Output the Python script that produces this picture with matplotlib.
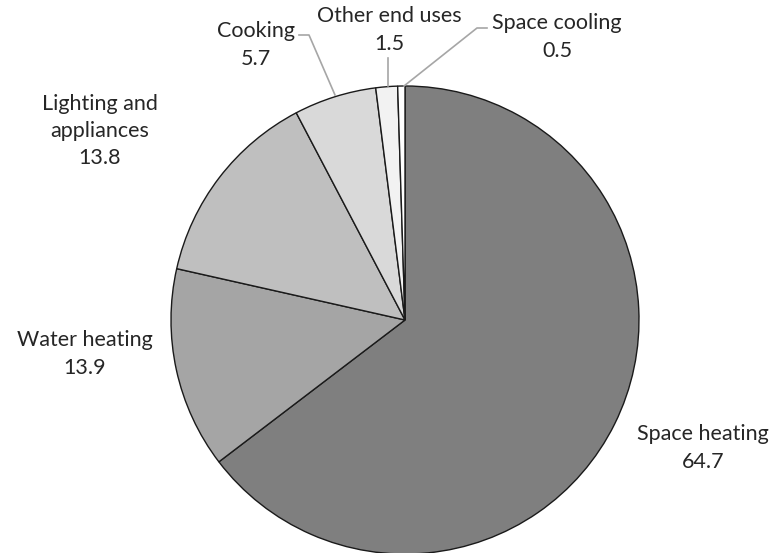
import matplotlib.pyplot as plt

plt.rcParams["font.family"] = ["Lato", "DejaVu Sans"]

categories = ["Space heating", "Water heating", "Lighting and\nappliances",
              "Cooking", "Other end uses", "Space cooling"]
values = [64.7, 13.9, 13.8, 5.7, 1.5, 0.5]
colors = ["#7f7f7f", "#a5a5a5", "#bfbfbf", "#d9d9d9", "#f2f2f2", "#ffffff"]

W, H = 773, 553
fig = plt.figure(figsize=(W / 100, H / 100), dpi=100)
ax = fig.add_axes([0, 0, 1, 1])

cx, cy, r = 405, H - 320, 234
ax.pie(values, colors=colors, startangle=90, counterclock=False,
       center=(cx, cy), radius=r, frame=True,
       wedgeprops=dict(edgecolor="#1a1a1a", linewidth=1.0))
ax.set_xlim(0, W)
ax.set_ylim(0, H)
ax.set_aspect("equal")
ax.axis("off")

# label positions in pixel coords (x, y from top)
label_pos = [(703, 448), (85, 354), (100, 131), (256, 45), (389, 30), (557, 37)]
for name, val, (x, y) in zip(categories, values, label_pos):
    ax.text(x, H - y, f"{name}\n{val}", ha="center", va="center",
            fontsize=15.5, color="#262626", linespacing=1.45)

# leader lines
leader = "#a6a6a6"
ax.plot([299, 309, 335], [H - 35, H - 35, H - 95], color=leader, lw=1.2)
ax.plot([388, 388], [H - 58, H - 86], color=leader, lw=1.2)
ax.plot([487, 477, 404], [H - 28, H - 28, H - 86], color=leader, lw=1.2)

fig.savefig("out.png", dpi=100)
